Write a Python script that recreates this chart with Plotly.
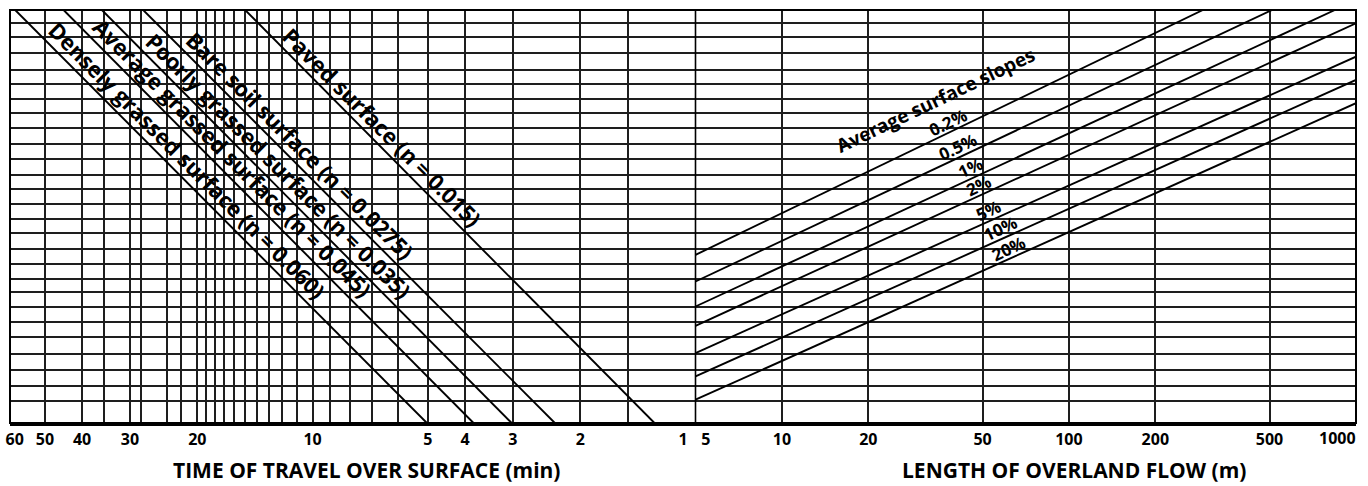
import numpy as np
import plotly.graph_objects as go

# ---------------- Left panel: time of travel over surface (min) ----------------
time_ticks = [60, 50, 40, 30, 20, 10, 5, 4, 3, 2, 1]
time_grid = [50, 40, 35, 30, 28, 24, 22, 20, 19, 18, 17, 16, 15, 14, 13, 12, 11,
             10, 9, 8, 7, 6, 5, 4, 3, 2, 1.5]

surface_names = [
    "Densely grassed surface (n = 0.060)",
    "Average grassed surface (n = 0.045)",
    "Poorly grassed surface (n = 0.035)",
    "Bare soil surface (n = 0.0275)",
    "Paved surface (n = 0.015)",
]
# travel time where each surface line meets the top / bottom of the turning scale
surface_time_top = [59.8, 44.7, 35.5, 27.7, 15.0]
surface_time_bottom = [5.03, 3.80, 3.02, 2.33, 1.28]

# ---------------- Right panel: length of overland flow (m) ----------------
length_ticks = [5, 10, 20, 50, 100, 200, 500, 1000]
length_grid = [10, 20, 50, 100, 200, 500]

slope_names = ["0.2%", "0.5%", "1%", "2%", "5%", "10%", "20%"]
# turning-scale reading at L = 5 m, and the far end point of each slope line
slope_turn_start = [40.72, 34.26, 28.21, 23.54, 16.94, 11.28, 5.64]
slope_length_end = [293, 510, 845, 1000, 1000, 1000, 1000]
slope_turn_end = [100, 100, 100, 96.78, 88.70, 83.06, 77.43]

# ---------------- Shared turning scale (horizontal rulings) ----------------
turning_grid = [96.93, 93.35, 89.48, 85.41, 82.10, 78.54, 75.01, 71.33, 67.58,
                63.83, 60.08, 56.57, 53.06, 49.43, 45.97, 42.25, 38.47, 34.84,
                31.60, 27.97, 24.34, 20.71, 16.70, 12.90, 8.86, 5.23]

FONT = "Open Sans"
INK = "#000000"
GRID = "#1e1e1e"
NBSP = "\u00a0"

fig = go.Figure()

# surface roughness lines (left panel)
for name, t_top, t_bot in zip(surface_names, surface_time_top, surface_time_bottom):
    fig.add_trace(go.Scatter(
        x=[t_top, t_bot], y=[100, 0], mode="lines", name=name,
        line=dict(color=INK, width=1.9), xaxis="x", yaxis="y",
        hoverinfo="skip", showlegend=False,
    ))

# average surface slope lines (right panel)
for name, y0, l1, y1 in zip(slope_names, slope_turn_start, slope_length_end, slope_turn_end):
    fig.add_trace(go.Scatter(
        x=[5, l1], y=[y0, y1], mode="lines", name=name,
        line=dict(color=INK, width=1.9), xaxis="x2", yaxis="y",
        hoverinfo="skip", showlegend=False,
    ))

annotations = []

# labels running along the surface lines
surface_label_frac = [0.391, 0.386, 0.403, 0.354, 0.309]
for name, t_top, t_bot, f in zip(surface_names, surface_time_top, surface_time_bottom,
                                 surface_label_frac):
    lt = np.log10(t_top) + f * (np.log10(t_bot) - np.log10(t_top))
    annotations.append(dict(
        x=lt, y=100 * (1 - f), xref="x", yref="y", text=name, showarrow=False,
        textangle=45, xshift=11, yshift=11,
        font=dict(family=FONT, size=22, color=INK, weight="bold"),
    ))

# slope labels sitting just above their lines
slope_label_len = [39, 42.5, 47, 50, 54, 59.5, 63.5]
for name, y0, l1, y1, L in zip(slope_names, slope_turn_start, slope_length_end,
                               slope_turn_end, slope_label_len):
    y = y0 + (y1 - y0) * np.log10(L / 5) / np.log10(l1 / 5)
    annotations.append(dict(
        x=np.log10(L), y=y, xref="x2", yref="y", text=name, showarrow=False,
        textangle=-25, xshift=-4, yshift=9,
        font=dict(family=FONT, size=17, color=INK, weight="bold"),
    ))

annotations.append(dict(
    x=np.log10(34.4), y=78.2, xref="x2", yref="y", text="Average surface slopes",
    showarrow=False, textangle=-25.5,
    font=dict(family=FONT, size=19, color=INK, weight="bold"),
))

# axis titles
annotations.append(dict(
    x=0.2652, y=-0.114, xref="paper", yref="paper", xanchor="center", yanchor="middle",
    text="TIME OF TRAVEL OVER SURFACE (min)", showarrow=False,
    font=dict(family=FONT, size=21, color=INK, weight="bold"),
))
annotations.append(dict(
    x=0.7905, y=-0.114, xref="paper", yref="paper", xanchor="center", yanchor="middle",
    text="LENGTH OF OVERLAND FLOW (m)", showarrow=False,
    font=dict(family=FONT, size=21, color=INK, weight="bold"),
))

split = 685.5 / 1346.0
tick_font = dict(family=FONT, size=16, color=INK, weight="bold")

time_text = [str(v) for v in time_ticks]
time_text[-1] = "1" + NBSP * 6
length_text = [str(v) for v in length_ticks]
length_text[0] = NBSP * 5 + "5"
# the last length label sits flush against the right frame
length_text[-1] = ""
annotations.append(dict(
    x=np.log10(length_ticks[-1]), y=-0.0355, xref="x2", yref="paper",
    xanchor="right", yanchor="middle", xshift=2, text=str(length_ticks[-1]),
    showarrow=False, font=tick_font,
))

fig.update_layout(
    width=1368, height=486,
    margin=dict(l=10, r=12, t=10, b=63, autoexpand=False),
    paper_bgcolor="white", plot_bgcolor="white",
    showlegend=False,
    xaxis=dict(
        domain=[0, split], type="log", range=[np.log10(61.7), 0],
        tickmode="array", tickvals=time_ticks, ticktext=time_text,
        ticks="", showgrid=False, zeroline=False, tickfont=tick_font,
        showline=True, linecolor=INK, linewidth=3, automargin=False,
        ticklabeloverflow="allow",
        minor=dict(tickmode="array", tickvals=time_grid, showgrid=True,
                   gridcolor=GRID, gridwidth=1.5, ticks=""),
        anchor="y",
    ),
    xaxis2=dict(
        domain=[split, 1], type="log", range=[np.log10(5), 3.0002],
        tickmode="array", tickvals=length_ticks, ticktext=length_text,
        ticks="", showgrid=False, zeroline=False, tickfont=tick_font,
        showline=True, linecolor=INK, linewidth=3, automargin=False,
        ticklabeloverflow="allow",
        minor=dict(tickmode="array", tickvals=length_grid, showgrid=True,
                   gridcolor=GRID, gridwidth=1.5, ticks=""),
        anchor="y",
    ),
    yaxis=dict(
        range=[0, 100], tickmode="array", tickvals=turning_grid,
        showticklabels=False, ticks="", showgrid=True, gridcolor=GRID,
        gridwidth=1.5, zeroline=False, showline=False, automargin=False,
    ),
    annotations=annotations,
    shapes=[
        dict(type="rect", xref="paper", yref="paper", x0=0, x1=1, y0=0, y1=1,
             line=dict(color=INK, width=2), layer="above"),
        dict(type="line", xref="paper", yref="paper", x0=split, x1=split, y0=0, y1=1,
             line=dict(color=INK, width=1.6), layer="above"),
    ],
)

fig.write_html("out.html")
